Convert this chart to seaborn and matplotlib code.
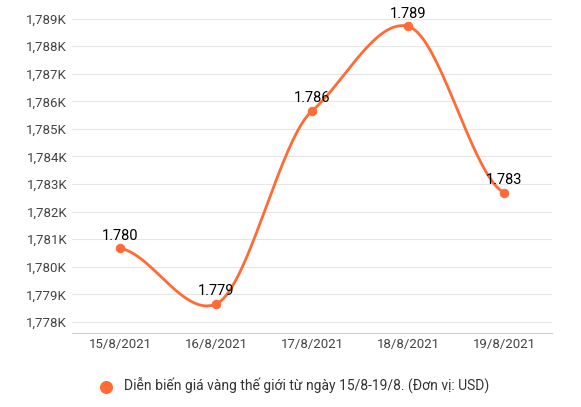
import matplotlib
matplotlib.use("Agg")
import matplotlib.pyplot as plt
import seaborn as sns
import numpy as np
import pandas as pd

dates = ["15/8/2021", "16/8/2021", "17/8/2021", "18/8/2021", "19/8/2021"]
prices = [1780.67, 1778.65, 1785.65, 1788.72, 1782.69]
labels = ["1.780", "1.779", "1.786", "1.789", "1.783"]
yticks = list(range(1778, 1790))
ytick_labels = ["1,%sK" % str(v)[1:] for v in yticks]
legend_text = "Diễn biến giá vàng thế giới từ ngày 15/8-19/8. (Đơn vị: USD)"
color = "#FF6B35"

sns.set_style("white")
plt.rcParams["font.family"] = ["Roboto", "DejaVu Sans"]

fig = plt.figure(figsize=(5.81, 4.07), dpi=100)
ax = fig.add_axes([0.124, 0.182, 0.826, 0.813])

# smooth curve (Hermite spline through the data points)
x = np.arange(len(prices), dtype=float)
y = np.array(prices, dtype=float)
px = np.concatenate([[2 * x[0] - x[1]], x, [2 * x[-1] - x[-2]]])
py = np.concatenate([[y[0]], y, [y[-1]]])
sx, sy = [], []
t = np.linspace(0, 1, 40)
for i in range(1, len(px) - 2):
    p0, p1, p2, p3 = py[i - 1], py[i], py[i + 1], py[i + 2]
    m1 = (p2 - p0) / 2 * 0.6
    m2 = (p3 - p1) / 2 * 0.6
    h00 = 2 * t**3 - 3 * t**2 + 1
    h10 = t**3 - 2 * t**2 + t
    h01 = -2 * t**3 + 3 * t**2
    h11 = t**3 - t**2
    sy.extend(h00 * p1 + h10 * m1 + h01 * p2 + h11 * m2)
    sx.extend(px[i] + t)
sns.lineplot(x=sx, y=sy, ax=ax, color=color, linewidth=2, sort=False)
df = pd.DataFrame({"x": x, "price": prices})
sns.scatterplot(data=df, x="x", y="price", ax=ax, color=color, s=40,
                edgecolor=color, zorder=5)
ax.scatter([], [], color=color, s=70, label=legend_text)

for xi, yi, lab in zip(x, prices, labels):
    ax.text(xi, yi + 0.2, lab, ha="center", va="bottom", fontsize=10.5, color="black", zorder=6)

ax.set_xlim(-0.5, 4.5)
ax.set_ylim(1777.6, 1789.6)
ax.set_xticks(x)
ax.set_xticklabels(dates, fontsize=9.5, color="#444444")
ax.set_yticks(yticks)
ax.set_yticklabels(ytick_labels, fontsize=9.5, color="#444444")
ax.set_xlabel("")
ax.set_ylabel("")
ax.grid(axis="y", color="#e6e6e6", linewidth=0.8)
for s in ["top", "right", "left"]:
    ax.spines[s].set_visible(False)
ax.spines["bottom"].set_color("#cccccc")
ax.tick_params(length=0)

fig.legend(loc="lower center", bbox_to_anchor=(0.5, 0.0), frameon=False,
           fontsize=10, handletextpad=0.3, labelcolor="#333333")
fig.savefig("out.png", dpi=100)
